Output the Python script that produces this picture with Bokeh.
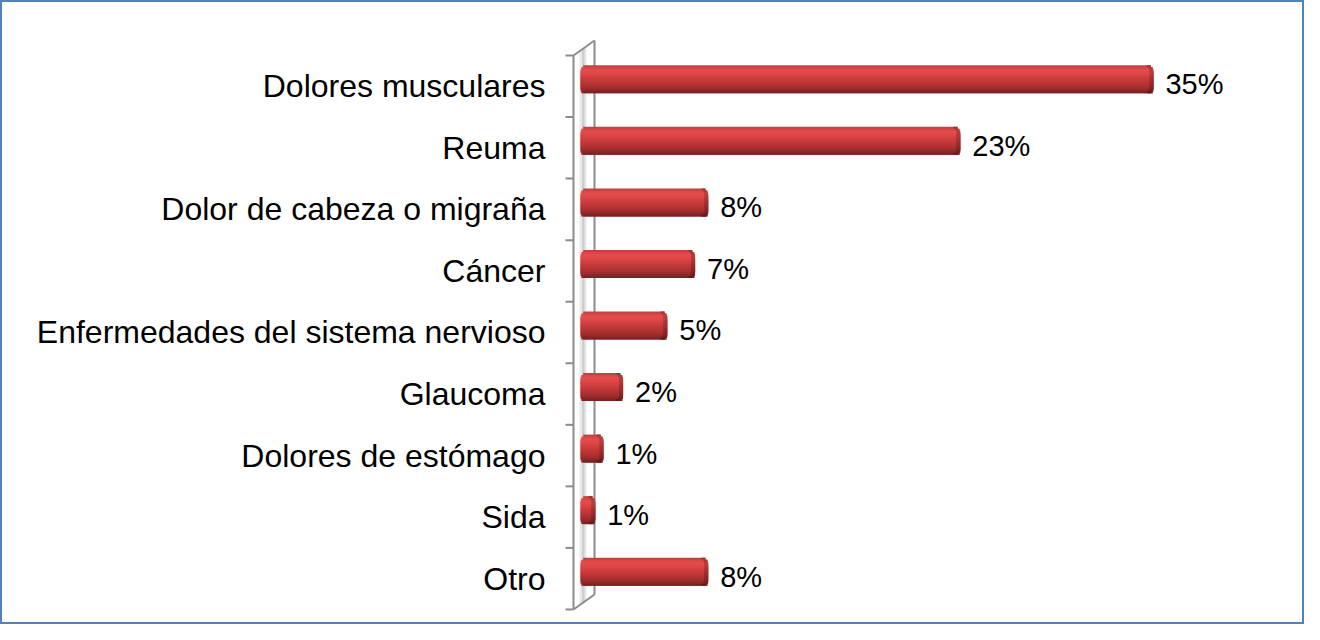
import math
from bokeh.plotting import figure
from bokeh.models import Range1d
from bokeh.core.properties import value
from bokeh.embed import file_html
from bokeh.resources import INLINE

# ---- data ----
categories = ["Dolores musculares", "Reuma", "Dolor de cabeza o migraña", "Cáncer",
              "Enfermedades del sistema nervioso", "Glaucoma", "Dolores de estómago",
              "Sida", "Otro"]
percent_values = [35.0, 23.2, 7.8, 7.0, 5.3, 2.6, 1.4, 0.9, 7.8]
percent_labels = ["35%", "23%", "8%", "7%", "5%", "2%", "1%", "1%", "8%"]

# ---- layout constants (pixels) ----
W, H = 1304, 624
PX_X = 16.37      # px per percent
PX_Y = 61.55      # px per category
X0_PX = 580       # figure x-pixel of 0 %
Y0_PX = 55        # figure y-pixel of top category boundary

x_range = Range1d(-X0_PX / PX_X, (W - X0_PX) / PX_X)
y_range = Range1d((H - Y0_PX) / PX_Y, -Y0_PX / PX_Y)

p = figure(width=W, height=H, x_range=x_range, y_range=y_range,
           output_backend="svg", toolbar_location=None,
           x_axis_location=None, y_axis_location=None,
           min_border=0, background_fill_color="white",
           border_fill_color="white",
           outline_line_color="#4F81BD", outline_line_width=3)
p.xgrid.visible = False
p.ygrid.visible = False

n = len(categories)
ypos = [i + 0.5 for i in range(n)]

def dx(px):
    return px / PX_X

def dy(px):
    return px / PX_Y

def shade(hexcol, f):
    r, g, b = int(hexcol[1:3], 16), int(hexcol[3:5], 16), int(hexcol[5:7], 16)
    return "#%02X%02X%02X" % (int(r * f), int(g * f), int(b * f))

# ---- 3D wall ----
fx = dx(-7)          # front edge of wall
bx = fx + dx(21)     # back edge of wall
ddy = dy(-15)        # depth shift upward

sx0, sx1 = fx + dx(6), fx + dx(13)
p.patch([sx0, sx1, sx1, sx0], [0 + ddy * 0.3, 0 + ddy * 0.62, n + ddy * 0.62, n + ddy * 0.3],
        fill_color="#DADADA", fill_alpha=0.6, line_color=None)
sx2, sx3 = fx + dx(8.5), fx + dx(11)
p.patch([sx2, sx3, sx3, sx2], [0 + ddy * 0.4, 0 + ddy * 0.52, n + ddy * 0.52, n + ddy * 0.4],
        fill_color="#BDBDBD", fill_alpha=0.6, line_color=None)

wall_color = "#8C8C8C"
p.segment(x0=[fx, bx, fx, fx], y0=[0, ddy, 0, n],
          x1=[fx, bx, bx, bx], y1=[n, n + ddy, ddy, n + ddy],
          line_color=wall_color, line_width=2)
bounds = list(range(n + 1))
p.segment(x0=[fx - dx(8)] * len(bounds), y0=bounds,
          x1=[fx] * len(bounds), y1=bounds,
          line_color=wall_color, line_width=2)

# ---- bars: overlapping horizontal strips imitating the 3D cylinder shading ----
bar_shift = dy(-7)
bar_h = 28
strip_cols = ["#BE4444", "#D94747", "#E44C4C", "#E24A4A", "#DC4646", "#D44141", "#CC3D3D",
              "#C43A3A", "#BC3636", "#B33333", "#AA3030", "#9E2C2C", "#902727", "#7C2222"]
ns = len(strip_cols)
sh = bar_h / ns
R = 6.0   # end rounding radius in px
for k, col in enumerate(strip_cols):
    top_px = k * sh
    bot_px = min(bar_h, (k + 1) * sh + (2.0 if k < ns - 1 else 0.0))
    mid_px = (k + 0.5) * sh
    d = min(mid_px, bar_h - mid_px)
    inset = R - math.sqrt(max(R * R - (R - d) ** 2, 0)) if d < R else 0.0
    ys = [y + bar_shift - dy(bar_h / 2) + dy((top_px + bot_px) / 2) for y in ypos]
    hh = dy(bot_px - top_px)
    p.hbar(y=ys, left=[dx(inset)] * n, right=[v - dx(inset) for v in percent_values],
           height=hh, fill_color=col, line_color=None)
    # darker rim at the right end
    p.hbar(y=ys, left=[v - dx(inset) - dx(4) for v in percent_values],
           right=[v - dx(inset) for v in percent_values],
           height=hh, fill_color=shade(col, 0.8), line_color=None)

# ---- texts ----
p.text(x=[dx(-35)] * n, y=ypos, text=categories,
       text_align="right", text_baseline="middle",
       text_font=value("Liberation Sans"), text_font_size="32px", text_color="#000000")

p.text(x=[v + dx(12) for v in percent_values], y=[y - dy(2) for y in ypos], text=percent_labels,
       text_align="left", text_baseline="middle",
       text_font=value("Liberation Sans"), text_font_size="29px", text_color="#000000")

open("out.html", "w").write(file_html(p, INLINE))
